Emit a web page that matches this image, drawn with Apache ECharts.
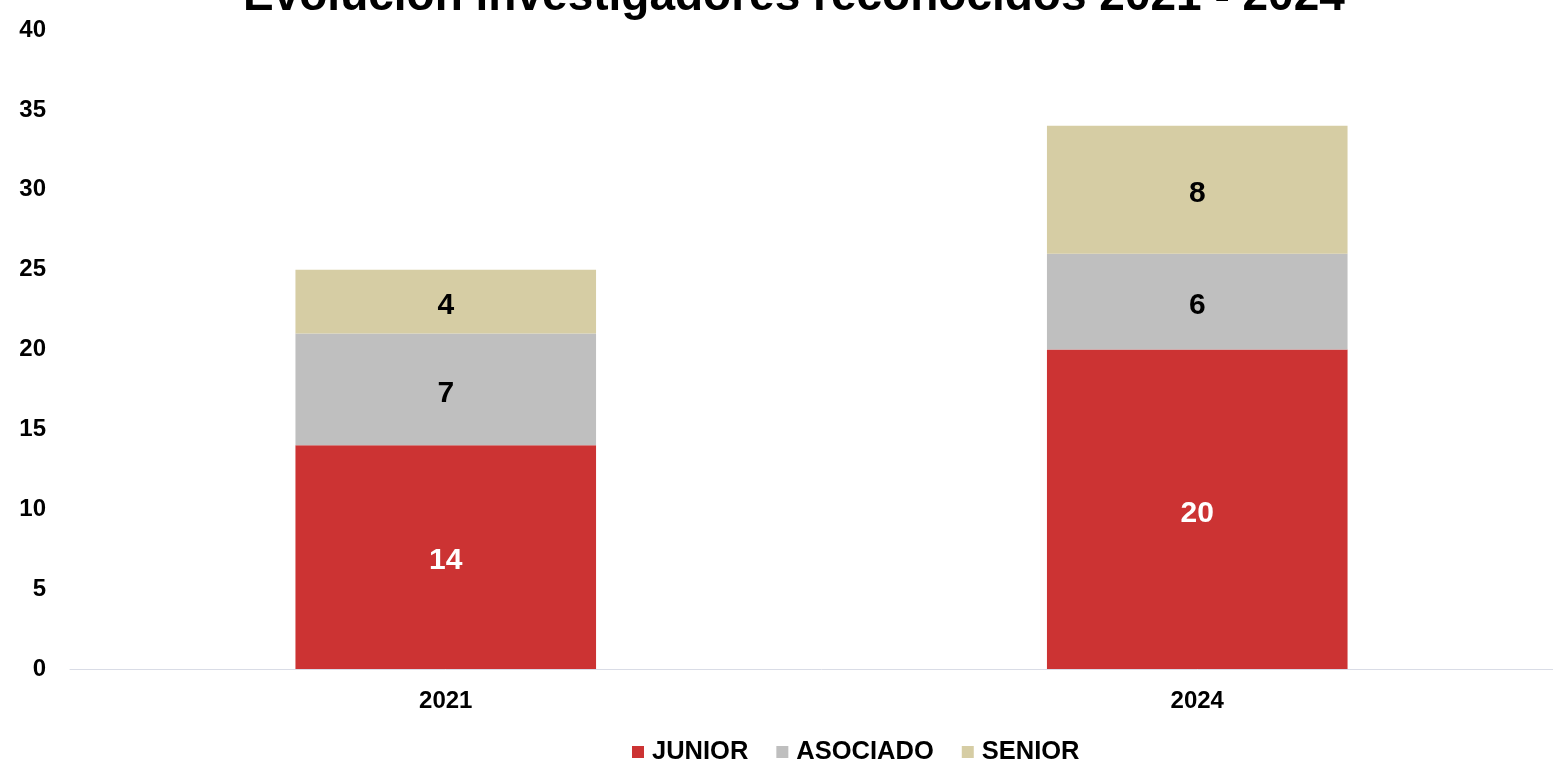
<!DOCTYPE html>
<html>
<head>
<meta charset="utf-8">
<script src="https://cdn.jsdelivr.net/npm/echarts@6/dist/echarts.min.js"></script>
<style>html,body{margin:0;padding:0;background:#fff;overflow:hidden;width:1553px;height:761px}#c{width:1573px;height:761px}</style>
</head>
<body>
<div id="c"></div>
<script>
var categories = ['2021', '2024'];
var junior = [14, 20];
var asociado = [7, 6];
var senior = [4, 8];
var yTicks = [0, 5, 10, 15, 20, 25, 30, 35, 40];

var chart = echarts.init(document.getElementById('c'), null, {renderer: 'canvas'});
var FONT = '"Liberation Sans", Arial, sans-serif';
function mk(name, data, color, labelColor) {
  return {
    name: name, type: 'bar', stack: 'total', data: data, barWidth: '40%',
    itemStyle: {color: color},
    label: {show: true, position: 'inside', offset: [0, 4], color: labelColor, fontFamily: FONT, fontWeight: 'bold', fontSize: 30}
  };
}
chart.setOption({
  animation: false,
  title: {
    text: 'Evolución investigadores reconocidos 2021 - 2024',
    left: 238, top: -31,
    textStyle: {fontFamily: FONT, fontWeight: 'bold', fontSize: 46, color: '#000'}
  },
  legend: {
    left: 627, top: 734, itemWidth: 12, itemHeight: 12, itemGap: 28, icon: 'rect',
    textStyle: {fontFamily: FONT, fontWeight: 'bold', fontSize: 25.5, color: '#000', padding: [0, 0, 0, 3]},
    data: ['JUNIOR', 'ASOCIADO', 'SENIOR']
  },
  grid: {left: 70, top: 30, right: 0, bottom: 92, containLabel: false},
  xAxis: {
    type: 'category', data: categories,
    axisLine: {lineStyle: {color: '#d9dce6'}}, axisTick: {show: false},
    axisLabel: {fontFamily: FONT, fontWeight: 'bold', fontSize: 24, color: '#000', margin: 20}
  },
  yAxis: {
    type: 'value', min: yTicks[0], max: yTicks[yTicks.length - 1], interval: 5,
    axisLine: {show: false}, axisTick: {show: false}, splitLine: {show: false},
    axisLabel: {fontFamily: FONT, fontWeight: 'bold', fontSize: 24, color: '#000', margin: 24}
  },
  series: [
    mk('JUNIOR', junior, '#cc3333', '#fff'),
    mk('ASOCIADO', asociado, '#bfbfbf', '#000'),
    mk('SENIOR', senior, '#d6cda4', '#000')
  ]
});
</script>
</body>
</html>
